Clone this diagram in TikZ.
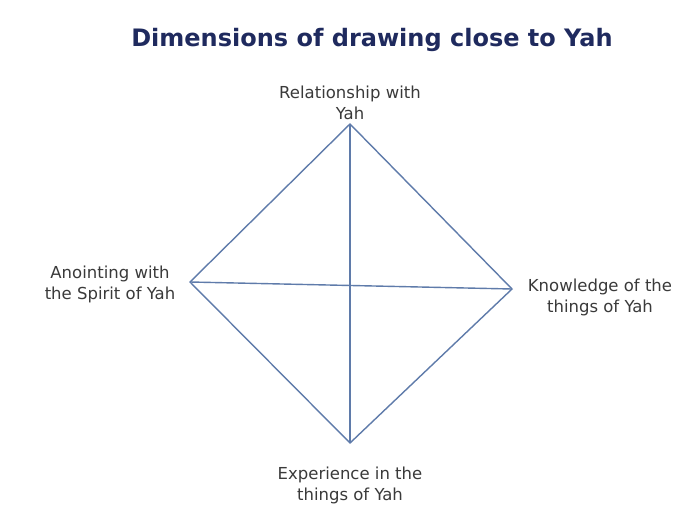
\documentclass[tikz,border=0pt]{standalone}
\usepackage{fontspec}
\setmainfont{DejaVu Sans}
\definecolor{titleblue}{HTML}{1F2A5E}
\definecolor{edgeblue}{HTML}{5F7BAA}
\definecolor{labelgray}{HTML}{3A3A3A}
\begin{document}
\begin{tikzpicture}[x=1pt,y=-1pt,
  edge/.style={draw=edgeblue,line width=1.4pt},
  lbl/.style={text=labelgray,font=\fontsize{16.5}{21}\selectfont,align=center,inner sep=0pt}]
\useasboundingbox[fill=white] (0,0) rectangle (688,508);
\node[text=titleblue,font=\bfseries\fontsize{24}{28}\selectfont] (title) at (372,40) {Dimensions of drawing close to Yah};
\coordinate (T) at (350,124);
\coordinate (L) at (190,282);
\coordinate (R) at (512,289);
\coordinate (B) at (350,443);
\draw[edge] (T) -- (R) -- (B) -- (L) -- cycle;
\draw[edge] (T) -- (B);
\draw[edge] (L) -- (R);
\node[lbl] (lt) at (350,103) {Relationship with\\Yah};
\node[lbl] (ll) at (110,284) {Anointing with\\the Spirit of Yah};
\node[lbl] (lr) at (600,297) {Knowledge of the\\things of Yah};
\node[lbl] (lb) at (350,485) {Experience in the\\things of Yah};
\end{tikzpicture}
\end{document}
